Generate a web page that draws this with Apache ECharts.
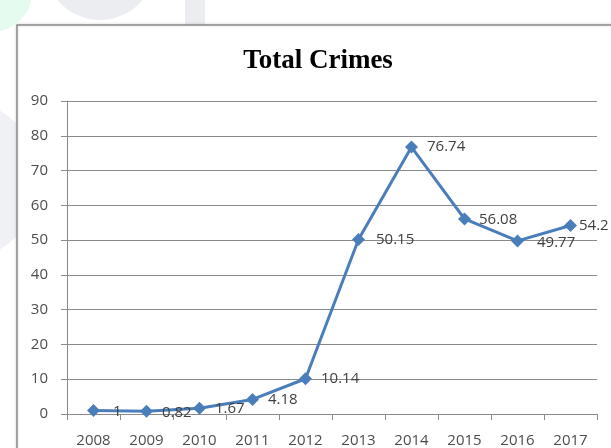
<!DOCTYPE html>
<html>
<head>
<meta charset="utf-8">
<script src="https://cdn.jsdelivr.net/npm/echarts@6/dist/echarts.min.js"></script>
<style>
  html, body { margin: 0; padding: 0; background: #ffffff; }
  #chart { width: 611px; height: 448px; }
</style>
</head>
<body>
<div id="chart"></div>
<script>
// Yearly totals
const years = ['2008', '2009', '2010', '2011', '2012', '2013', '2014', '2015', '2016', '2017'];
const totals = [1, 0.82, 1.67, 4.18, 10.14, 50.15, 76.74, 56.08, 49.77, 54.2];
const yTicks = [0, 10, 20, 30, 40, 50, 60, 70, 80, 90];

// Nudges for value labels so neighbours don't collide with the line
const labelNudge = [[4, 1], [0, 2], [0, 1], [0, 0], [0, 0], [2, 0], [0, 0], [-1, 1], [4, 2], [-7, 0]];

const chart = echarts.init(document.getElementById('chart'));

const seriesData = totals.map((v, i) => ({
  value: v,
  label: { offset: labelNudge[i] }
}));

const labelFont = 'Open Sans, Liberation Sans, sans-serif';

chart.setOption({
  animation: false,
  backgroundColor: '#ffffff',
  graphic: [
    // faint background watermark shapes
    { type: 'circle', shape: { cx: -8, cy: -8, r: 40 }, style: { fill: 'rgba(150,240,190,0.25)' }, z: -10 },
    { type: 'circle', shape: { cx: 100, cy: -35, r: 55 }, style: { fill: 'rgba(205,210,220,0.4)' }, z: -10 },
    { type: 'rect', shape: { x: 185, y: 0, width: 20, height: 25 }, style: { fill: 'rgba(205,210,220,0.4)' }, z: -10 },
    { type: 'circle', shape: { cx: -40, cy: 180, r: 80 }, style: { fill: 'rgba(205,210,220,0.3)' }, z: -10 },
    // chart frame
    {
      type: 'rect',
      shape: { x: 17, y: 25, width: 700, height: 500 },
      style: { fill: '#ffffff', stroke: '#8a8a8a', lineWidth: 1.5,
               shadowColor: 'rgba(0,0,0,0.15)', shadowBlur: 3 },
      z: -5
    }
  ],
  title: {
    text: 'Total Crimes',
    left: 313,
    top: 43,
    textAlign: 'center',
    textStyle: {
      fontFamily: 'Liberation Serif, DejaVu Serif, serif',
      fontWeight: 'bold',
      fontSize: 27,
      color: '#000000'
    }
  },
  grid: { left: 67, top: 101, width: 530, height: 315, containLabel: false },
  xAxis: {
    type: 'category',
    data: years,
    boundaryGap: true,
    axisLine: { lineStyle: { color: '#8a8a8a', width: 1 } },
    axisTick: { show: true, alignWithLabel: false, length: 6, lineStyle: { color: '#8a8a8a' } },
    axisLabel: { color: '#4d4d4d', fontFamily: labelFont, fontSize: 15, margin: 19, interval: 0 }
  },
  yAxis: {
    type: 'value',
    min: 0,
    max: 90,
    interval: 10,
    axisLine: { show: true, lineStyle: { color: '#8a8a8a', width: 1 } },
    axisTick: { show: true, length: 6, lineStyle: { color: '#8a8a8a' } },
    axisLabel: {
      color: '#4d4d4d', fontFamily: labelFont, fontSize: 15, margin: 19,
      formatter: v => (yTicks.includes(v) ? String(v) : '')
    },
    splitLine: { show: true, lineStyle: { color: '#8a8a8a', width: 1 } }
  },
  series: [{
    type: 'line',
    data: seriesData,
    symbol: 'diamond',
    symbolSize: 13,
    lineStyle: { color: '#4a7ebb', width: 3 },
    itemStyle: { color: '#4a7ebb' },
    label: {
      show: true,
      position: 'right',
      distance: 9,
      color: '#404040',
      fontFamily: labelFont,
      fontSize: 15
    }
  }]
});
</script>
</body>
</html>
